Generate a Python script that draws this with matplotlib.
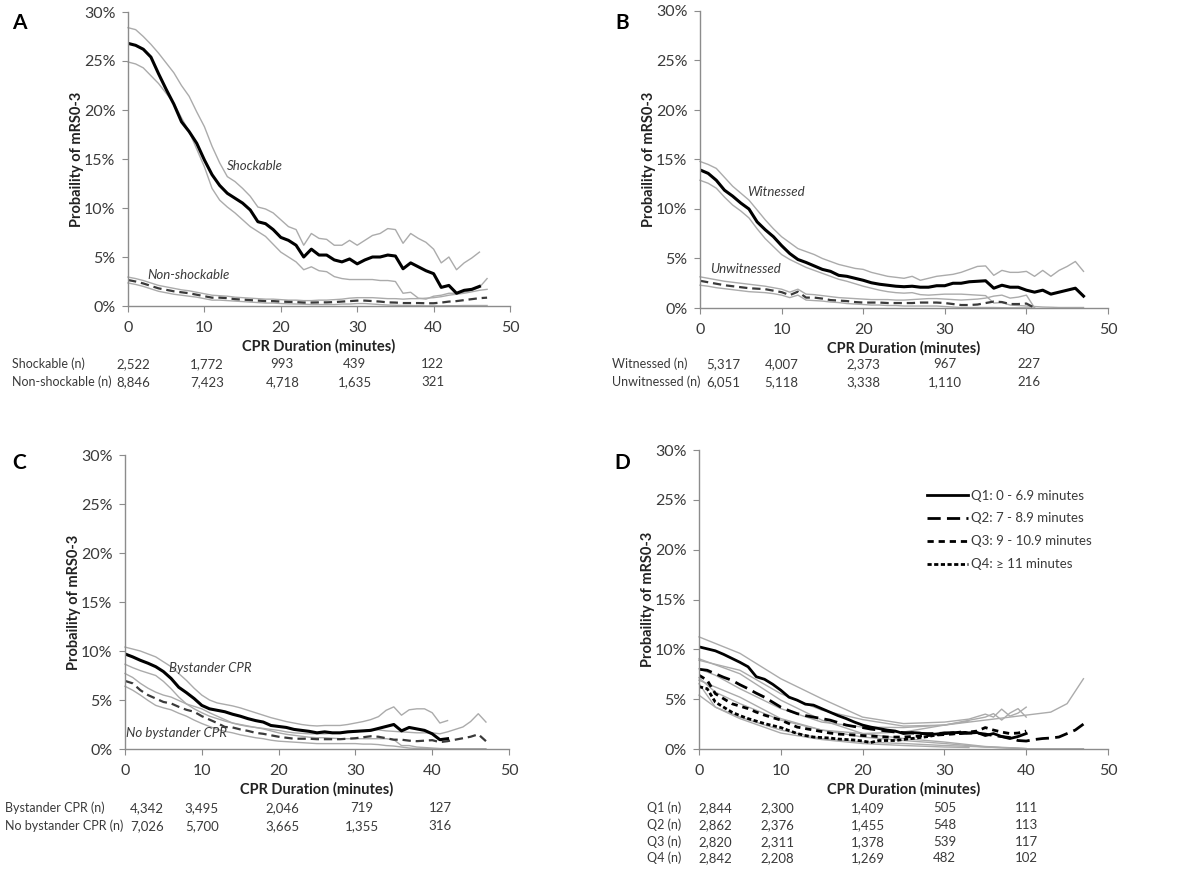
import numpy as np
import matplotlib
matplotlib.use("Agg")
import matplotlib.pyplot as plt
import matplotlib.transforms as mtransforms
from matplotlib.ticker import FuncFormatter

plt.rcParams['font.family'] = ['Lato', 'DejaVu Sans']
plt.rcParams['lines.scale_dashes'] = False

# ---------------- data ----------------
# Panel A
a_shock = [26.8, 26.6, 26.2, 25.4, 23.7, 22.1, 20.6, 18.8, 17.8, 16.6, 14.9, 13.4, 12.3, 11.5, 11.0, 10.5,
           9.8, 8.6, 8.4, 7.8, 7.0, 6.7, 6.2, 5.0, 5.8, 5.2, 5.2, 4.7, 4.5, 4.8, 4.3, 4.7, 5.0, 5.0, 5.2, 5.1,
           3.8, 4.4, 4.0, 3.6, 3.3, 1.9, 2.1, 1.3, 1.6, 1.7, 2.0]
a_shock_up = [28.4, 28.2, 27.5, 26.7, 25.8, 24.8, 23.8, 22.5, 21.4, 19.8, 18.3, 16.3, 14.6, 13.2, 12.7, 12.0,
              11.2, 10.1, 9.9, 9.5, 8.8, 8.1, 7.8, 6.2, 7.4, 6.9, 6.8, 6.2, 6.2, 6.7, 6.2, 6.7, 7.2, 7.4, 7.9, 7.8,
              6.4, 7.4, 6.9, 6.5, 5.8, 4.4, 5.0, 3.7, 4.4, 4.9, 5.5]
a_shock_lo = [24.9, 24.7, 24.3, 23.5, 22.7, 21.7, 20.7, 19.2, 17.8, 16.0, 14.2, 12.0, 10.8, 10.1, 9.5, 8.8,
              8.1, 7.6, 7.1, 6.3, 5.5, 5.0, 4.5, 3.7, 4.0, 3.6, 3.5, 3.0, 2.8, 2.7, 2.7, 2.7, 2.7, 2.6, 2.6, 2.5,
              1.3, 1.4, 0.8, 0.7, 1.0, 1.1, 1.3, 1.3, 1.4, 1.6, 1.9, 2.8]
a_nons = [2.65, 2.5, 2.3, 2.05, 1.8, 1.65, 1.5, 1.4, 1.3, 1.15, 1.0, 0.85, 0.85, 0.8, 0.7, 0.65, 0.6, 0.55,
          0.5, 0.5, 0.45, 0.42, 0.4, 0.35, 0.35, 0.37, 0.37, 0.4, 0.45, 0.5, 0.55, 0.55, 0.5, 0.45, 0.37, 0.35,
          0.3, 0.3, 0.3, 0.28, 0.28, 0.35, 0.45, 0.5, 0.6, 0.7, 0.8, 0.85]
a_nons_up = [2.95, 2.8, 2.6, 2.35, 2.1, 1.95, 1.8, 1.65, 1.55, 1.4, 1.25, 1.1, 1.05, 1.0, 0.9, 0.85, 0.8, 0.75,
             0.7, 0.7, 0.65, 0.6, 0.6, 0.55, 0.55, 0.6, 0.6, 0.65, 0.7, 0.8, 0.85, 0.85, 0.85, 0.8, 0.75, 0.75,
             0.7, 0.75, 0.75, 0.8, 0.85, 0.95, 1.1, 1.2, 1.3, 1.45, 1.6, 1.7]
a_nons_lo = [2.35, 2.2, 2.0, 1.75, 1.5, 1.35, 1.2, 1.1, 1.0, 0.9, 0.75, 0.6, 0.6, 0.55, 0.5, 0.45, 0.4, 0.35,
             0.3, 0.3, 0.25, 0.22, 0.2, 0.18, 0.15, 0.15, 0.15, 0.15, 0.2, 0.2, 0.25, 0.25, 0.2, 0.15, 0.1, 0.08,
             0.05, 0.05, 0.03, 0.02, 0.02, 0.02, 0.03, 0.03, 0.05, 0.05, 0.05, 0.05]

# Panel B
b_wit = [13.95, 13.6, 12.9, 11.9, 11.3, 10.6, 10.0, 8.7, 7.9, 7.2, 6.3, 5.5, 4.9, 4.6, 4.25, 3.9, 3.7, 3.3,
         3.2, 3.0, 2.8, 2.55, 2.4, 2.3, 2.2, 2.15, 2.2, 2.1, 2.1, 2.25, 2.25, 2.5, 2.5, 2.65, 2.7, 2.75, 2.0,
         2.3, 2.1, 2.1, 1.8, 1.6, 1.8, 1.4, 1.6, 1.8, 2.0, 1.2]
b_wit_up = [14.8, 14.5, 14.1, 13.2, 12.3, 11.6, 10.9, 9.9, 8.9, 8.0, 7.2, 6.6, 6.0, 5.7, 5.4, 5.0, 4.7, 4.4,
            4.2, 4.0, 3.9, 3.6, 3.4, 3.2, 3.1, 3.0, 3.2, 2.8, 3.0, 3.2, 3.3, 3.4, 3.6, 3.9, 4.2, 4.25, 3.3,
            3.8, 3.6, 3.6, 3.7, 3.2, 3.8, 3.2, 3.8, 4.2, 4.7, 3.7]
b_wit_lo = [12.9, 12.6, 12.1, 11.2, 10.4, 9.8, 9.1, 8.0, 7.0, 6.2, 5.4, 4.9, 4.5, 4.1, 3.8, 3.5, 3.2, 2.9,
            2.7, 2.45, 2.2, 2.0, 1.8, 1.65, 1.55, 1.5, 1.55, 1.35, 1.3, 1.35, 1.4, 1.4, 1.4, 1.35, 1.3, 1.25,
            0.5, 0.55, 0.3, 0.25, 0.2, 0.15, 0.1, 0.08, 0.05, 0.05, 0.05, 0.05]
b_unw = [2.75, 2.6, 2.45, 2.3, 2.2, 2.1, 2.0, 1.95, 1.9, 1.75, 1.6, 1.3, 1.65, 1.05, 1.05, 0.95, 0.8, 0.75,
         0.7, 0.6, 0.55, 0.55, 0.55, 0.5, 0.5, 0.5, 0.5, 0.55, 0.55, 0.55, 0.5, 0.4, 0.3, 0.3, 0.35, 0.5, 0.65,
         0.6, 0.4, 0.4, 0.45, 0.02]
b_unw_up = [3.15, 3.0, 2.85, 2.7, 2.6, 2.5, 2.4, 2.3, 2.2, 2.05, 1.9, 1.6, 1.9, 1.4, 1.35, 1.25, 1.15, 1.05,
            1.0, 0.95, 0.9, 0.85, 0.85, 0.85, 0.8, 0.8, 0.85, 0.9, 0.95, 0.95, 0.9, 0.85, 0.8, 0.85, 0.9, 1.0,
            1.2, 1.3, 1.0, 1.1, 1.3, 0.02]
b_unw_lo = [2.3, 2.2, 2.05, 1.95, 1.85, 1.75, 1.65, 1.6, 1.55, 1.45, 1.3, 1.05, 1.3, 0.8, 0.75, 0.7, 0.6,
            0.55, 0.45, 0.4, 0.35, 0.3, 0.3, 0.25, 0.25, 0.2, 0.2, 0.2, 0.2, 0.2, 0.15, 0.1, 0.05, 0.05, 0.05,
            0.05, 0.05, 0.03, 0.02, 0.02, 0.02, 0.0]

# Panel C
c_by = [9.7, 9.4, 9.05, 8.75, 8.4, 7.9, 7.2, 6.3, 5.75, 5.15, 4.45, 4.1, 3.95, 3.8, 3.55, 3.35, 3.1, 2.9,
        2.75, 2.4, 2.3, 2.2, 2.0, 1.9, 1.8, 1.65, 1.75, 1.65, 1.65, 1.75, 1.8, 1.85, 1.9, 2.1, 2.3, 2.5, 1.85,
        2.2, 2.05, 1.9, 1.55, 0.95, 1.05]
c_by_up = [10.4, 10.2, 10.0, 9.7, 9.4, 8.9, 8.4, 7.7, 7.0, 6.2, 5.5, 5.0, 4.7, 4.55, 4.4, 4.2, 3.95, 3.7,
           3.45, 3.2, 3.0, 2.8, 2.65, 2.5, 2.4, 2.35, 2.4, 2.4, 2.4, 2.5, 2.65, 2.8, 3.0, 3.3, 3.95, 4.3, 3.45,
           4.0, 4.1, 4.1, 3.7, 2.65, 2.9]
c_by_lo = [8.65, 8.3, 8.0, 7.75, 7.5, 6.9, 6.15, 5.3, 4.6, 4.1, 3.7, 3.35, 3.1, 2.85, 2.65, 2.5, 2.35, 2.2,
           2.05, 1.85, 1.65, 1.5, 1.4, 1.3, 1.2, 1.15, 1.15, 1.1, 1.05, 1.05, 1.05, 1.05, 1.05, 1.05, 1.05,
           0.95, 0.35, 0.35, 0.2, 0.15, 0.1, 0.05, 0.03]
c_nb = [6.95, 6.7, 6.0, 5.5, 5.15, 4.8, 4.65, 4.3, 4.0, 3.8, 3.35, 3.0, 2.65, 2.25, 2.2, 2.0, 1.85, 1.65,
        1.55, 1.4, 1.25, 1.15, 1.05, 1.05, 1.05, 1.0, 1.0, 1.0, 1.0, 1.05, 1.1, 1.2, 1.3, 1.25, 1.1, 0.95,
        0.95, 0.85, 0.8, 0.85, 0.9, 0.7, 0.8, 0.95, 1.1, 1.25, 1.5, 0.8]
c_nb_up = [7.7, 7.3, 6.7, 6.2, 5.8, 5.5, 5.3, 4.95, 4.6, 4.35, 4.1, 3.7, 3.35, 3.0, 2.65, 2.45, 2.3, 2.2,
           2.1, 2.0, 1.9, 1.75, 1.65, 1.6, 1.55, 1.55, 1.55, 1.6, 1.65, 1.7, 1.75, 1.85, 2.0, 1.95, 1.85, 1.8,
           1.75, 1.7, 1.65, 1.65, 1.65, 1.55, 1.75, 2.0, 2.25, 2.8, 3.6, 2.75]
c_nb_lo = [6.4, 6.0, 5.5, 4.95, 4.45, 4.2, 4.0, 3.65, 3.35, 2.95, 2.6, 2.3, 2.0, 1.8, 1.65, 1.45, 1.3, 1.15,
           1.05, 0.9, 0.8, 0.75, 0.7, 0.65, 0.6, 0.55, 0.55, 0.55, 0.55, 0.55, 0.55, 0.5, 0.5, 0.45, 0.35,
           0.3, 0.2, 0.1, 0.05, 0.03, 0.03, 0.03, 0.03, 0.03, 0.03, 0.03, 0.03, 0.03]

# Panel D (main lines per minute)
d_q1 = [10.25, 10.05, 9.85, 9.5, 9.1, 8.7, 8.25, 7.25, 7.0, 6.5, 5.9, 5.2, 4.9, 4.5, 4.4, 4.05, 3.7, 3.35,
        3.05, 2.7, 2.4, 2.2, 2.05, 1.9, 1.8, 1.55, 1.65, 1.6, 1.45, 1.5, 1.6, 1.65, 1.65, 1.6, 1.65, 1.35,
        1.55, 1.25, 1.05, 1.25, 1.55]
d_q2 = [8.0, 7.9, 7.55, 7.2, 6.9, 6.45, 6.05, 5.6, 5.2, 4.7, 4.2, 3.85, 3.55, 3.35, 3.2, 3.05, 2.9, 2.65,
        2.4, 2.25, 2.15, 2.0, 1.9, 1.8, 1.7, 1.65, 1.6, 1.55, 1.55, 1.55, 1.6, 1.55, 1.55, 1.6, 1.6, 1.5,
        1.35, 1.25, 1.15, 0.85, 0.8, 0.95, 1.05, 1.1, 1.2, 1.55, 1.9, 2.5]
d_q3 = [7.4, 6.9, 5.55, 5.05, 4.55, 4.3, 4.05, 3.7, 3.4, 3.15, 2.9, 2.55, 2.2, 2.05, 1.9, 1.75, 1.6, 1.5,
        1.45, 1.4, 1.35, 1.3, 1.25, 1.2, 1.2, 1.2, 1.25, 1.3, 1.35, 1.4, 1.45, 1.5, 1.6, 1.7, 1.8, 2.15, 1.9,
        1.7, 1.55, 1.6, 1.8]
d_q4 = [6.25, 6.05, 4.7, 4.2, 3.7, 3.35, 3.05, 2.8, 2.55, 2.35, 2.15, 1.85, 1.55, 1.35, 1.2, 1.15, 1.1,
        1.0, 0.95, 0.9, 0.8, 0.65, 0.85, 0.85, 0.85, 0.95, 1.05, 1.15, 1.25, 1.4, 1.55, 1.6, 1.7, 1.6]
# Panel D confidence bands (read at the minutes listed)
d_q1_up_x = [0, 5, 10, 15, 20, 25, 30, 33, 35, 36, 37, 38, 39, 40]
d_q1_up = [11.25, 9.6, 7.05, 5.05, 3.2, 2.55, 2.7, 3.0, 3.5, 3.2, 4.0, 3.3, 3.6, 4.2]
d_q1_lo_x = [0, 5, 10, 15, 20, 25, 30, 35, 40]
d_q1_lo = [9.05, 7.55, 4.9, 2.9, 1.55, 1.05, 0.7, 0.25, 0.05]
d_q2_up_x = [0, 5, 10, 15, 20, 25, 30, 35, 40, 43, 45, 47]
d_q2_up = [8.9, 7.9, 5.55, 3.9, 2.95, 2.3, 2.4, 2.9, 3.4, 3.7, 4.55, 7.05]
d_q2_lo_x = [0, 5, 10, 15, 20, 25, 30, 35, 40, 47]
d_q2_lo = [6.9, 5.2, 3.05, 1.9, 1.2, 0.85, 0.55, 0.2, 0.03, 0.03]
d_q3_up_x = [0, 2, 5, 10, 15, 20, 25, 30, 35, 36, 37, 38, 39, 40]
d_q3_up = [8.05, 7.4, 6.05, 4.05, 2.7, 2.2, 2.15, 2.4, 3.2, 3.55, 2.9, 3.6, 4.05, 3.2]
d_q3_lo_x = [0, 2, 5, 10, 15, 20, 25, 30, 35, 40]
d_q3_lo = [6.55, 4.2, 3.2, 1.9, 1.05, 0.7, 0.55, 0.35, 0.2, 0.03]
d_q4_up_x = [0, 2, 5, 10, 15, 20, 25, 30, 33]
d_q4_up = [7.15, 5.7, 4.55, 2.9, 1.9, 1.55, 1.7, 2.4, 2.8]
d_q4_lo_x = [0, 2, 5, 10, 15, 20, 25, 30, 33]
d_q4_lo = [5.4, 4.2, 3.05, 1.6, 0.95, 0.55, 0.35, 0.2, 0.15]

d_labels = ["Q1: 0 - 6.9 minutes", "Q2: 7 - 8.9 minutes", "Q3: 9 - 10.9 minutes", "Q4: \u2265 11 minutes"]

# Number-at-risk tables
a_rows = ["Shockable (n)", "Non-shockable (n)"]
a_counts = [["2,522", "1,772", "993", "439", "122"],
            ["8,846", "7,423", "4,718", "1,635", "321"]]
b_rows = ["Witnessed (n)", "Unwitnessed (n)"]
b_counts = [["5,317", "4,007", "2,373", "967", "227"],
            ["6,051", "5,118", "3,338", "1,110", "216"]]
c_rows = ["Bystander CPR (n)", "No bystander CPR (n)"]
c_counts = [["4,342", "3,495", "2,046", "719", "127"],
            ["7,026", "5,700", "3,665", "1,355", "316"]]
d_rows = ["Q1 (n)", "Q2 (n)", "Q3 (n)", "Q4 (n)"]
d_counts = [["2,844", "2,300", "1,409", "505", "111"],
            ["2,862", "2,376", "1,455", "548", "113"],
            ["2,820", "2,311", "1,378", "539", "117"],
            ["2,842", "2,208", "1,269", "482", "102"]]

# ---------------- figure ----------------
W, H = 1200, 872
fig = plt.figure(figsize=(12, 8.72), dpi=100)

def px_axes(l, t, r, b):
    return fig.add_axes([l / W, 1 - b / H, (r - l) / W, (b - t) / H])

GRAY = '#ababab'
AXC = '#8c8c8c'
TXT = '#3a3a3a'

def style(ax):
    ax.set_xlim(0, 50)
    ax.set_ylim(0, 30)
    ax.set_xticks(range(0, 51, 10))
    ax.set_yticks(range(0, 31, 5))
    ax.yaxis.set_major_formatter(FuncFormatter(lambda v, p: f"{int(v)}%"))
    for s in ['top', 'right']:
        ax.spines[s].set_visible(False)
    for s in ['left', 'bottom']:
        ax.spines[s].set_color(AXC)
        ax.spines[s].set_linewidth(1.0)
    ax.tick_params(axis='x', direction='out', length=4, color=AXC, labelsize=11.5, labelcolor=TXT, pad=7)
    ax.tick_params(axis='y', direction='out', length=4, color=AXC, labelsize=11.5, labelcolor=TXT, pad=5)
    ax.set_xlabel("CPR Duration (minutes)", fontsize=10.5, fontweight='bold', color='#222222', labelpad=3)
    ax.set_ylabel("Probaility of mRS0-3", fontsize=10.5, fontweight='bold', color='#222222', labelpad=0)
    ax.patch.set_alpha(0)

def gray(ax, x, y):
    ax.plot(x, y, color=GRAY, lw=1.0, solid_joinstyle='round', clip_on=False)

def table(ax, rows, counts, label_x, ys, colx):
    tr = mtransforms.blended_transform_factory(ax.transData, fig.transFigure)
    for r, (lab, vals) in enumerate(zip(rows, counts)):
        yy = 1 - ys[r] / H
        fig.text(label_x / W, yy, lab, fontsize=9, color=TXT, ha='left', va='center')
        for cx, v in zip(colx, vals):
            ax.text(cx, yy, v, transform=tr, fontsize=9.5, color=TXT, ha='center', va='center')

ANN = dict(fontsize=9.5, style='italic', color=TXT, ha='center', va='center')

# Panel A
axA = px_axes(128, 12, 510, 306)
style(axA)
gray(axA, np.arange(len(a_shock_up)), a_shock_up)
gray(axA, np.arange(len(a_shock_lo)), a_shock_lo)
gray(axA, np.arange(len(a_nons_up)), a_nons_up)
gray(axA, np.arange(len(a_nons_lo)), a_nons_lo)
axA.plot(np.arange(len(a_shock)), a_shock, color='black', lw=2.2)
axA.plot(np.arange(len(a_nons)), a_nons, color='#3a3a3a', lw=1.6, dashes=(6, 3.5))
axA.text(16.6, 14.3, "Shockable", **ANN)
axA.text(7.9, 3.2, "Non-shockable", **ANN)
table(axA, a_rows, a_counts, 12, [364, 382], [0.7, 10.3, 20.2, 29.7, 39.9])
fig.text(19 / W, 1 - 23 / H, "A", fontsize=15, fontweight='bold', ha='center', va='center')

# Panel B
axB = px_axes(700, 11, 1108, 308)
style(axB)
gray(axB, np.arange(len(b_wit_up)), b_wit_up)
gray(axB, np.arange(len(b_wit_lo)), b_wit_lo)
gray(axB, np.arange(len(b_unw_up)), b_unw_up)
gray(axB, np.arange(len(b_unw_lo)), b_unw_lo)
axB.plot(np.arange(len(b_wit)), b_wit, color='black', lw=2.2)
axB.plot(np.arange(len(b_unw)), b_unw, color='#3a3a3a', lw=1.6, dashes=(6, 3.5))
axB.text(9.3, 11.7, "Witnessed", **ANN)
axB.text(5.6, 3.9, "Unwitnessed", **ANN)
table(axB, b_rows, b_counts, 612, [364, 382], [2.8, 10.0, 20.0, 30.0, 40.3])
fig.text(622 / W, 1 - 23 / H, "B", fontsize=15, fontweight='bold', ha='center', va='center')

# Panel C
axC = px_axes(125, 455, 509, 749)
style(axC)
gray(axC, np.arange(len(c_by_up)), c_by_up)
gray(axC, np.arange(len(c_by_lo)), c_by_lo)
gray(axC, np.arange(len(c_nb_up)), c_nb_up)
gray(axC, np.arange(len(c_nb_lo)), c_nb_lo)
axC.plot(np.arange(len(c_by)), c_by, color='black', lw=2.2)
axC.plot(np.arange(len(c_nb)), c_nb, color='#3a3a3a', lw=1.6, dashes=(6, 3.5))
axC.text(11.1, 8.3, "Bystander CPR", **ANN)
axC.text(6.7, 1.67, "No bystander CPR", **ANN)
table(axC, c_rows, c_counts, 5, [808, 826], [2.9, 10.0, 20.5, 30.9, 41.0])
fig.text(19 / W, 1 - 463 / H, "C", fontsize=15, fontweight='bold', ha='center', va='center')

# Panel D
axD = px_axes(699, 450, 1108, 749)
style(axD)
for xs, ys in [(d_q1_up_x, d_q1_up), (d_q1_lo_x, d_q1_lo), (d_q2_up_x, d_q2_up), (d_q2_lo_x, d_q2_lo),
               (d_q3_up_x, d_q3_up), (d_q3_lo_x, d_q3_lo), (d_q4_up_x, d_q4_up), (d_q4_lo_x, d_q4_lo)]:
    gray(axD, xs, ys)
l1, = axD.plot(np.arange(len(d_q1)), d_q1, color='black', lw=2.0)
l2, = axD.plot(np.arange(len(d_q2)), d_q2, color='black', lw=2.0, dashes=(9.5, 4.5))
l3, = axD.plot(np.arange(len(d_q3)), d_q3, color='black', lw=2.0, dashes=(4.5, 3.5))
l4, = axD.plot(np.arange(len(d_q4)), d_q4, color='black', lw=2.0, dashes=(3.0, 1.8))
leg = axD.legend([l1, l2, l3, l4], d_labels, loc='upper left', bbox_to_anchor=(0.545, 0.885),
                 frameon=False, fontsize=9.5, handlelength=3.1, handletextpad=0.2, labelspacing=0.82,
                 borderaxespad=0)
for t in leg.get_texts():
    t.set_color(TXT)
table(axD, d_rows, d_counts, 647, [808, 825, 842, 858], [2.0, 9.6, 20.6, 30.0, 40.0])
fig.text(622 / W, 1 - 463 / H, "D", fontsize=15, fontweight='bold', ha='center', va='center')

fig.savefig("out.png", dpi=100, facecolor='white')
